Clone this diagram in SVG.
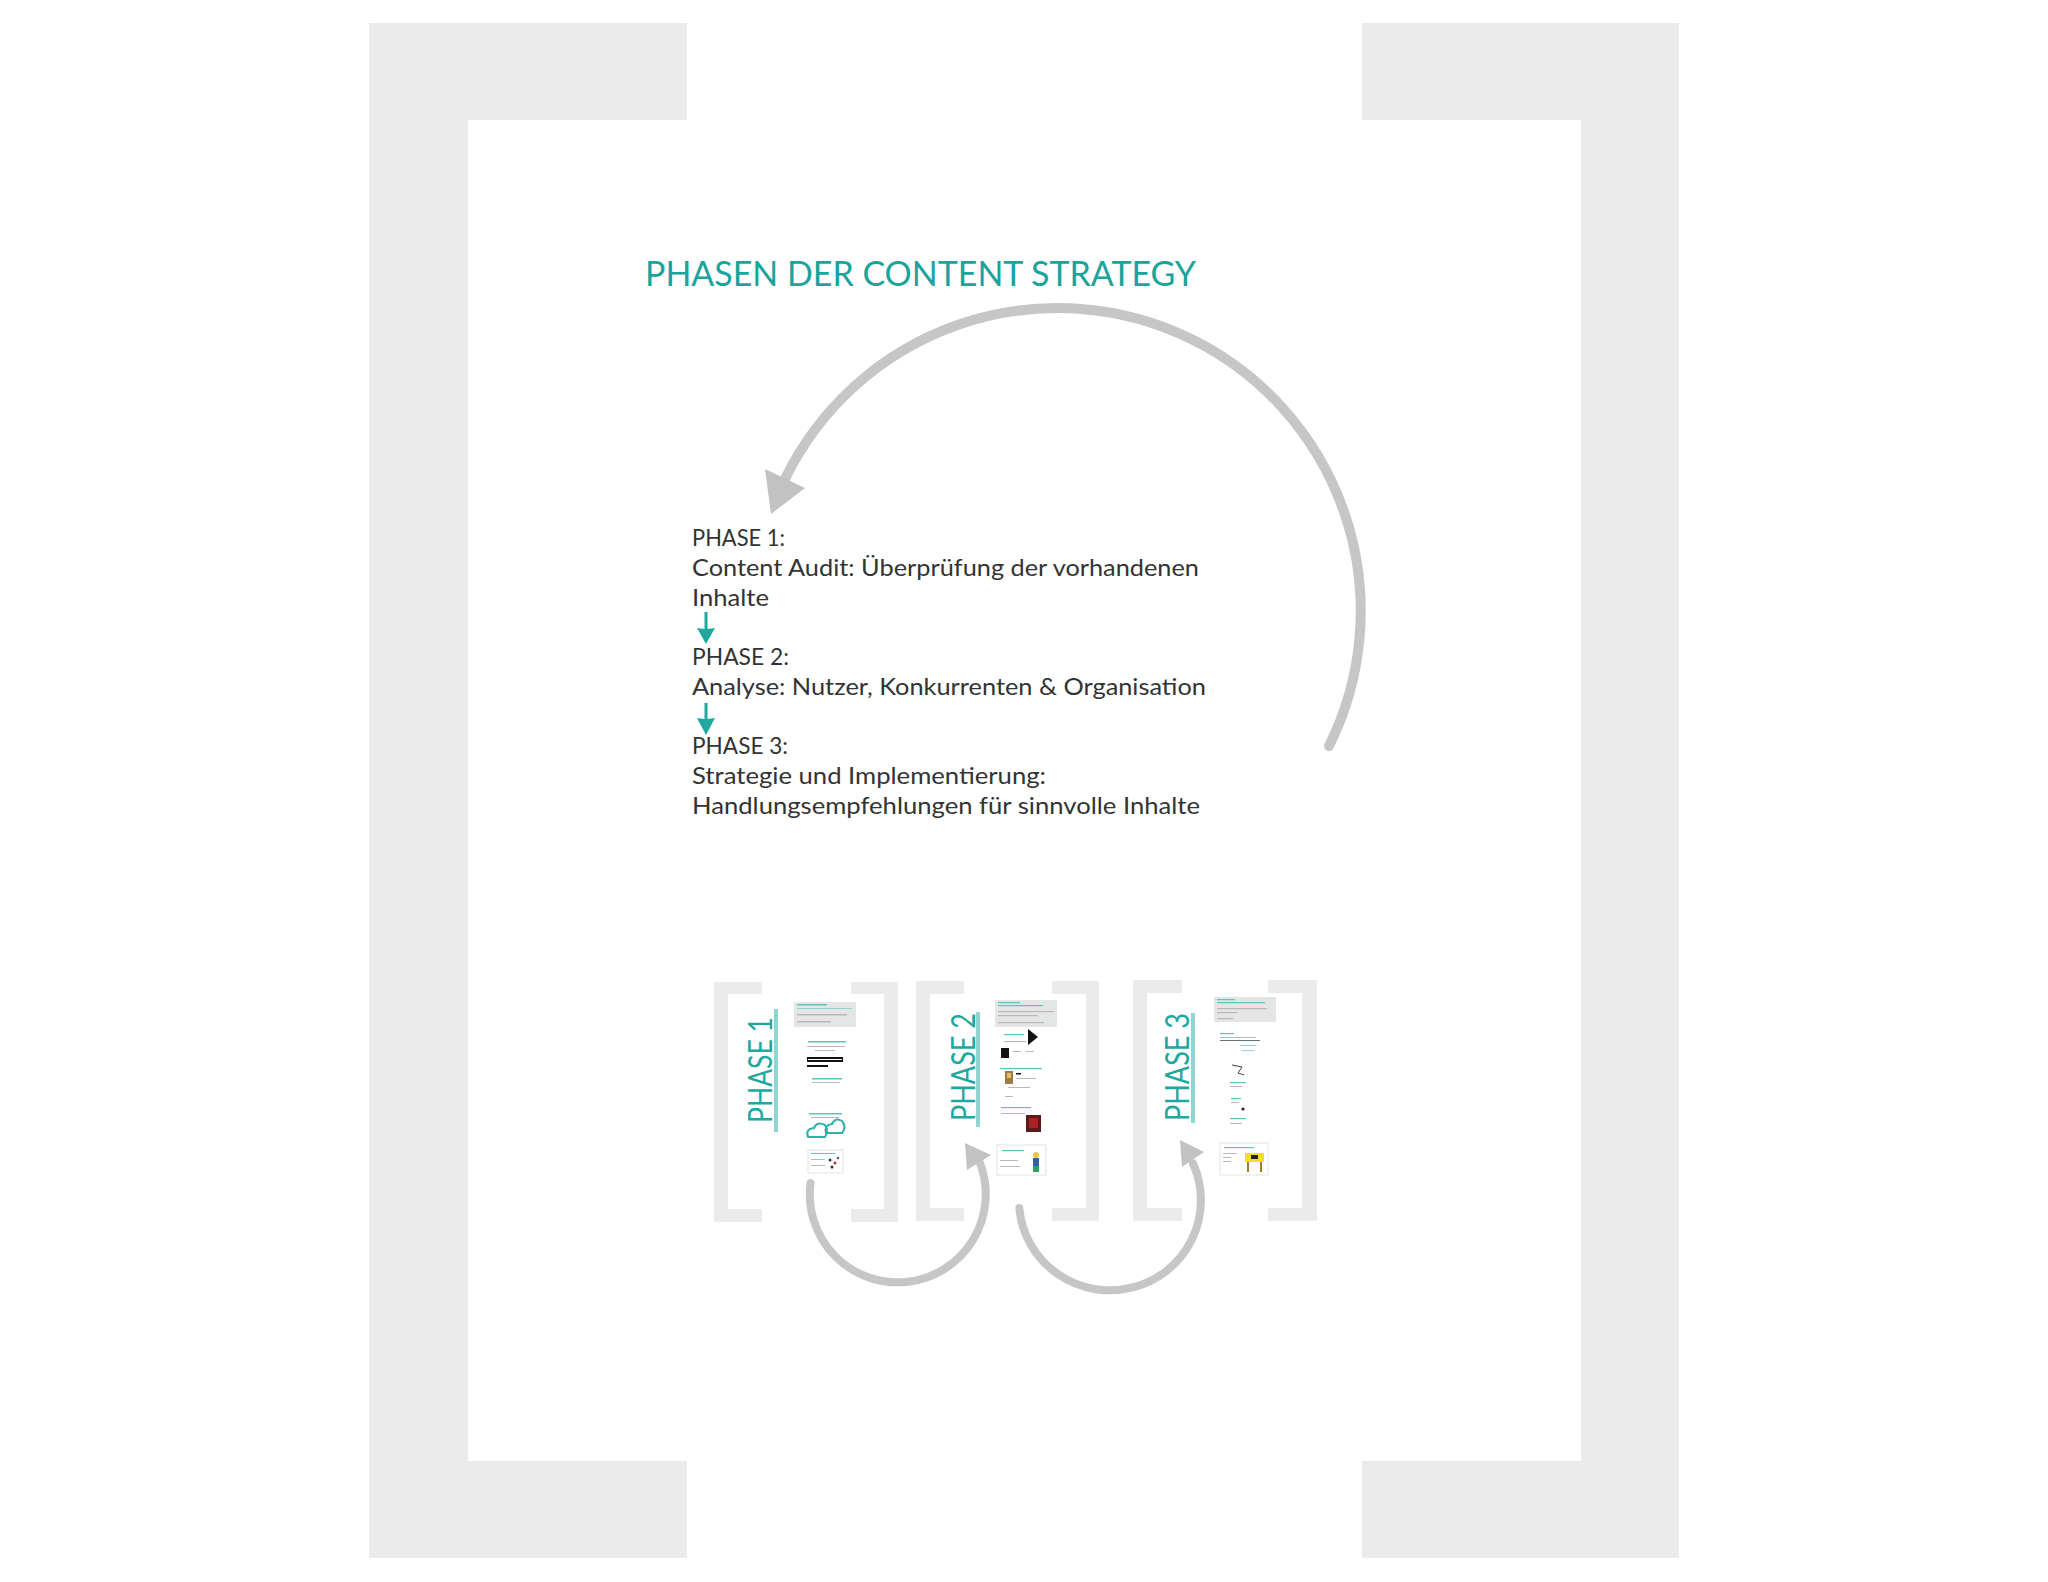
<svg xmlns="http://www.w3.org/2000/svg" width="2048" height="1582" viewBox="0 0 2048 1582">
<defs>
<style>
.br{fill:#EBEBEB}
.title{font-family:Lato,"Open Sans","Liberation Sans",sans-serif;font-size:35px;fill:#1BA39C}
.body{font-family:Lato,"Open Sans","Liberation Sans",sans-serif;font-size:24px;fill:#333333}
.ph{font-family:Lato,"Open Sans","Liberation Sans",sans-serif;font-size:33px;fill:#1FA8A0}
.arc{fill:none;stroke:#C6C6C6;stroke-linecap:round}
.head{fill:#C2C2C2}
.teal{fill:#1FA8A0}
.panel{fill:#E4E6E6}
.tl{fill:#5FC2BC}
.gl{fill:#B8B8B8}
.bk{fill:#111111}
.card{fill:#FFFFFF;stroke:#E2E2E2;stroke-width:1}
</style>
</defs>
<rect width="2048" height="1582" fill="#FFFFFF"/>

<g id="main-frame">
<polygon class="br" points="369,23 687,23 687,120 468,120 468,1461 687,1461 687,1558 369,1558"/>
<polygon class="br" points="1679,23 1362,23 1362,120 1581,120 1581,1461 1362,1461 1362,1558 1679,1558"/>
</g>

<g id="title">
<text class="title" x="645" y="286" textLength="551" lengthAdjust="spacingAndGlyphs">PHASEN DER CONTENT STRATEGY</text>
</g>

<g id="phase-text">
<text class="body" x="692" y="546" textLength="93" lengthAdjust="spacingAndGlyphs">PHASE 1:</text>
<text class="body" x="692" y="576" textLength="507" lengthAdjust="spacingAndGlyphs">Content Audit: Überprüfung der vorhandenen</text>
<text class="body" x="692" y="606" textLength="77" lengthAdjust="spacingAndGlyphs">Inhalte</text>
<text class="body" x="692" y="665" textLength="97" lengthAdjust="spacingAndGlyphs">PHASE 2:</text>
<text class="body" x="692" y="695" textLength="514" lengthAdjust="spacingAndGlyphs">Analyse: Nutzer, Konkurrenten &amp; Organisation</text>
<text class="body" x="692" y="754" textLength="96" lengthAdjust="spacingAndGlyphs">PHASE 3:</text>
<text class="body" x="692" y="784" textLength="354" lengthAdjust="spacingAndGlyphs">Strategie und Implementierung:</text>
<text class="body" x="692" y="814" textLength="508" lengthAdjust="spacingAndGlyphs">Handlungsempfehlungen für sinnvolle Inhalte</text>
</g>

<g id="phase1-thumb">
<polygon class="br" points="714,982 762,982 762,994 728,994 728,1209 762,1209 762,1222 714,1222"/>
<polygon class="br" points="898,982 851,982 851,994 884,994 884,1209 851,1209 851,1222 898,1222"/>
<text class="ph" transform="translate(772,1123) rotate(-90)" x="0" y="0" textLength="106" lengthAdjust="spacingAndGlyphs">PHASE 1</text>
<rect class="tl" x="774" y="1009" width="4" height="123" opacity="0.7"/>
<rect class="panel" x="794" y="1002" width="62" height="25"/>
<rect class="tl" x="797" y="1004" width="30" height="1.5"/>
<rect class="tl" x="797" y="1008" width="55" height="1" opacity="0.6"/>
<rect class="gl" x="797" y="1014" width="50" height="1.5"/>
<rect class="gl" x="797" y="1021" width="34" height="1.5"/>
<rect class="tl" x="808" y="1041" width="38" height="1.5"/>
<rect class="gl" x="807" y="1046" width="38" height="1"/>
<rect class="gl" x="815" y="1050" width="20" height="1"/>
<rect class="bk" x="807" y="1057" width="36" height="5"/>
<rect x="808" y="1059" width="34" height="1" fill="#FFFFFF"/>
<rect class="bk" x="807" y="1065" width="21" height="2"/>
<rect class="tl" x="812" y="1078" width="30" height="1.5"/>
<rect class="gl" x="812" y="1082" width="28" height="1"/>
<rect class="tl" x="809" y="1113" width="33" height="1.5"/>
<rect class="gl" x="811" y="1117" width="28" height="1"/>
<path d="M808,1137 q-3,-8 6,-9 q3,-7 11,-3 q4,6 0,12 z M826,1133 q-2,-8 6,-9 q3,-7 10,-3 q5,6 0,12 z" fill="none" stroke="#2DB0A8" stroke-width="2"/>
<rect class="card" x="808" y="1150" width="35" height="23"/>
<rect class="tl" x="811" y="1153" width="24" height="1"/>
<rect class="gl" x="811" y="1159" width="14" height="1"/>
<rect class="gl" x="811" y="1165" width="14" height="1"/>
<circle cx="830" cy="1160" r="1.5" fill="#333"/><circle cx="835" cy="1163" r="1.5" fill="#C03030"/><circle cx="832" cy="1167" r="1.5" fill="#333"/><circle cx="838" cy="1158" r="1.2" fill="#555"/>
</g>

<g id="phase2-thumb">
<polygon class="br" points="916,981 964,981 964,994 930,994 930,1208 964,1208 964,1221 916,1221"/>
<polygon class="br" points="1099,981 1052,981 1052,994 1086,994 1086,1208 1052,1208 1052,1221 1099,1221"/>
<text class="ph" transform="translate(975,1121) rotate(-90)" x="0" y="0" textLength="108" lengthAdjust="spacingAndGlyphs">PHASE 2</text>
<rect class="tl" x="976" y="1012" width="4" height="115" opacity="0.7"/>
<rect class="panel" x="995" y="1000" width="62" height="27"/>
<rect class="tl" x="998" y="1002" width="22" height="1.2"/>
<rect class="tl" x="998" y="1005" width="45" height="1.2"/>
<rect class="gl" x="998" y="1011" width="56" height="1.2"/>
<rect class="gl" x="998" y="1015" width="40" height="1.2"/>
<rect class="gl" x="998" y="1022" width="46" height="1.2"/>
<rect class="tl" x="1004" y="1034" width="20" height="1.2"/>
<polygon class="bk" points="1028,1029 1038,1037 1028,1045"/>
<rect class="gl" x="1004" y="1041" width="22" height="1.2"/>
<rect class="bk" x="1001" y="1048" width="8" height="10"/>
<rect class="gl" x="1013" y="1051" width="8" height="1"/><rect class="gl" x="1026" y="1051" width="8" height="1"/>
<rect class="tl" x="1000" y="1068" width="42" height="1.2"/>
<rect x="1005" y="1071" width="8" height="13" fill="#A07A40"/>
<rect x="1007" y="1073" width="4" height="5" fill="#E0C060"/>
<rect class="bk" x="1016" y="1073" width="5" height="1.5"/>
<rect class="gl" x="1016" y="1078" width="20" height="1"/>
<rect class="gl" x="1008" y="1087" width="22" height="1"/>
<rect class="gl" x="1005" y="1096" width="8" height="1"/>
<rect class="tl" x="1001" y="1107" width="30" height="1.2"/>
<rect class="gl" x="1001" y="1113" width="24" height="1"/>
<rect x="1026" y="1115" width="15" height="17" fill="#5A1A1A"/>
<rect x="1029" y="1118" width="9" height="10" fill="#B02020"/>
<rect class="card" x="997" y="1145" width="49" height="30"/>
<rect class="tl" x="1002" y="1150" width="22" height="1.2"/>
<rect class="gl" x="1000" y="1160" width="18" height="1"/>
<rect class="gl" x="1000" y="1166" width="20" height="1"/>
<circle cx="1036" cy="1155" r="3" fill="#E8C840"/>
<rect x="1033" y="1158" width="6" height="8" fill="#3060A0"/>
<rect x="1033" y="1166" width="6" height="6" fill="#30A060"/>
</g>

<g id="phase3-thumb">
<polygon class="br" points="1133,980 1182,980 1182,993 1147,993 1147,1208 1182,1208 1182,1221 1133,1221"/>
<polygon class="br" points="1317,980 1268,980 1268,993 1302,993 1302,1208 1268,1208 1268,1221 1317,1221"/>
<text class="ph" transform="translate(1189,1121) rotate(-90)" x="0" y="0" textLength="108" lengthAdjust="spacingAndGlyphs">PHASE 3</text>
<rect class="tl" x="1191" y="1013" width="4" height="110" opacity="0.7"/>
<rect class="panel" x="1214" y="997" width="62" height="25"/>
<rect class="tl" x="1217" y="999" width="18" height="1.2"/>
<rect class="tl" x="1217" y="1002" width="48" height="1.2"/>
<rect class="gl" x="1217" y="1008" width="50" height="1.2"/>
<rect class="gl" x="1217" y="1012" width="20" height="1.2"/>
<rect class="gl" x="1217" y="1018" width="16" height="1.2"/>
<rect class="tl" x="1220" y="1033" width="14" height="1.2"/>
<rect class="gl" x="1220" y="1037" width="36" height="1"/>
<rect class="bk" x="1220" y="1040" width="40" height="1" opacity="0.6"/>
<rect class="tl" x="1240" y="1045" width="16" height="1" opacity="0.7"/>
<rect class="tl" x="1242" y="1050" width="12" height="1" opacity="0.7"/>
<path d="M1232,1065 l10,2 l-4,6 l6,2" fill="none" stroke="#444" stroke-width="1"/>
<rect class="tl" x="1230" y="1082" width="16" height="1.2"/>
<rect class="gl" x="1230" y="1086" width="12" height="1"/>
<rect class="tl" x="1231" y="1098" width="10" height="1.2"/>
<rect class="gl" x="1231" y="1102" width="8" height="1"/>
<circle cx="1243" cy="1109" r="1.6" fill="#222"/>
<rect class="tl" x="1230" y="1118" width="16" height="1.2"/>
<rect class="gl" x="1230" y="1123" width="12" height="1"/>
<rect class="card" x="1220" y="1143" width="48" height="32"/>
<rect class="tl" x="1224" y="1147" width="30" height="1.2"/>
<rect class="gl" x="1223" y="1153" width="14" height="1"/>
<rect class="gl" x="1223" y="1157" width="8" height="1"/>
<rect class="gl" x="1223" y="1161" width="8" height="1"/>
<rect x="1245" y="1153" width="19" height="9" fill="#F2E020"/>
<rect x="1251" y="1155" width="7" height="4" fill="#222"/>
<rect x="1247" y="1162" width="2" height="10" fill="#A08020"/>
<rect x="1260" y="1162" width="2" height="10" fill="#A08020"/>
</g>

<g id="connectors">
<path class="arc" stroke-width="10" d="M1329,746 A303,303 0 1 0 785,479"/>
<polygon class="head" points="771,514 765,469 805,488"/>
<polygon class="teal" points="704.5,612 707.5,612 707.5,629 715,628 706,644 697,628 704.5,629"/>
<polygon class="teal" points="704.5,703 707.5,703 707.5,719 715,718 706,735 697,718 704.5,719"/>
<path class="arc" stroke-width="8" d="M810.5,1183 A88,88 0 1 0 980,1163"/>
<polygon class="head" points="965,1143 967,1170 991,1155"/>
<path class="arc" stroke-width="8" d="M1019.3,1208 A91,90 0 1 0 1193,1163.5"/>
<polygon class="head" points="1180,1140 1182,1167 1204,1152"/>
</g>
</svg>
